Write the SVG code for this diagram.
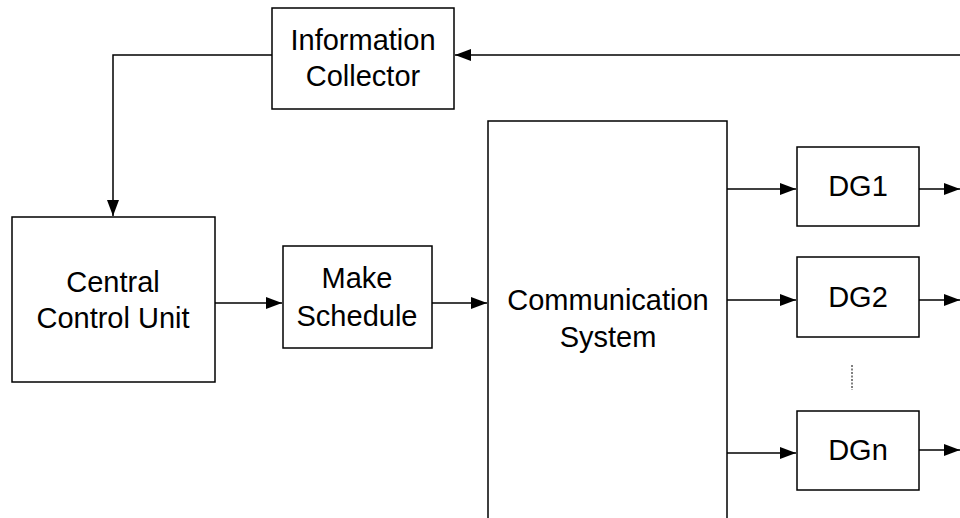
<svg xmlns="http://www.w3.org/2000/svg" width="960" height="518" viewBox="0 0 960 518">
<style>
.box{fill:#fff;stroke:#000;stroke-width:1.5}
.t{font-family:"Liberation Sans",Arial,sans-serif;font-size:29px;fill:#000;text-anchor:middle}
.c{fill:none;stroke:#000;stroke-width:1.5}
</style>
<defs>
<marker id="ah" markerWidth="16" markerHeight="12" refX="16" refY="6" orient="auto" markerUnits="userSpaceOnUse">
<path d="M0,0 L16,6 L0,12 Z" fill="#000"/>
</marker>
</defs>
<rect width="960" height="518" fill="#fff"/>
<g id="connectors">
<path class="c" d="M960,55 L455,55" marker-end="url(#ah)"/>
<path class="c" d="M272,55 L113,55 L113,216" marker-end="url(#ah)"/>
<path class="c" d="M215,303 L282,303" marker-end="url(#ah)"/>
<path class="c" d="M432,303 L487,303" marker-end="url(#ah)"/>
<path class="c" d="M727,189 L796,189" marker-end="url(#ah)"/>
<path class="c" d="M727,300 L796,300" marker-end="url(#ah)"/>
<path class="c" d="M727,453 L796,453" marker-end="url(#ah)"/>
<path class="c" d="M919,189 L960,189" marker-end="url(#ah)"/>
<path class="c" d="M919,300 L960,300" marker-end="url(#ah)"/>
<path class="c" d="M919,450 L960,450" marker-end="url(#ah)"/>
<path d="M852,365 L852,390" stroke="#000" stroke-width="1" stroke-dasharray="2,1.5" fill="none"/>
</g>
<g id="info">
<rect class="box" x="272" y="8" width="182" height="101"/>
<text class="t" x="363" y="50">Information</text>
<text class="t" x="363" y="86">Collector</text>
</g>
<g id="ccu">
<rect class="box" x="12" y="217" width="203" height="165"/>
<text class="t" x="113" y="292">Central</text>
<text class="t" x="113" y="328">Control Unit</text>
</g>
<g id="make">
<rect class="box" x="283" y="246" width="149" height="102"/>
<text class="t" x="357" y="288">Make</text>
<text class="t" x="357" y="326">Schedule</text>
</g>
<g id="comm">
<rect class="box" x="488" y="121" width="239" height="420"/>
<text class="t" x="608" y="310">Communication</text>
<text class="t" x="608" y="347">System</text>
</g>
<g id="dg1">
<rect class="box" x="797" y="147" width="122" height="79"/>
<text class="t" x="858" y="196">DG1</text>
</g>
<g id="dg2">
<rect class="box" x="797" y="257" width="122" height="80"/>
<text class="t" x="858" y="307">DG2</text>
</g>
<g id="dgn">
<rect class="box" x="797" y="411" width="122" height="79"/>
<text class="t" x="858" y="460">DGn</text>
</g>
</svg>
